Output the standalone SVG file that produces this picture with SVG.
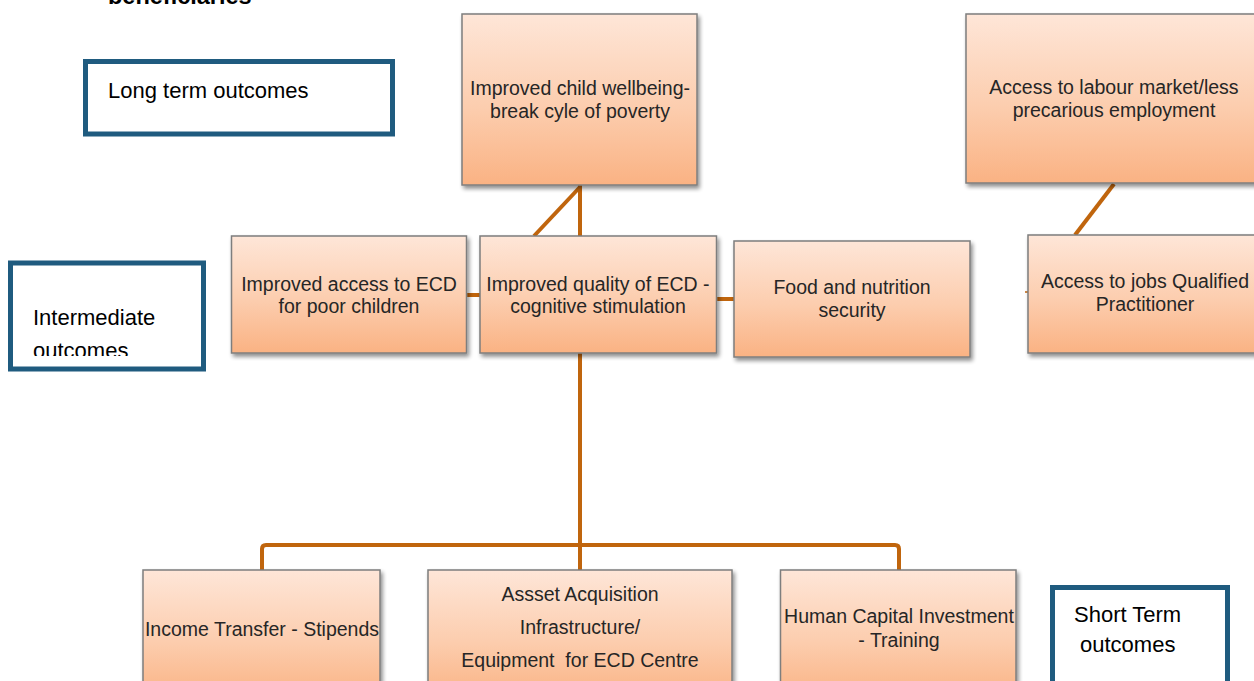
<svg xmlns="http://www.w3.org/2000/svg" width="1254" height="681" viewBox="0 0 1254 681">
  <defs>
    <linearGradient id="peach" x1="0" y1="0" x2="0" y2="1">
      <stop offset="0" stop-color="#FEE6D8"/>
      <stop offset="0.55" stop-color="#FCCDAE"/>
      <stop offset="1" stop-color="#FAB283"/>
    </linearGradient>
    <filter id="shadow" x="-10%" y="-10%" width="125%" height="130%">
      <feGaussianBlur in="SourceAlpha" stdDeviation="2"/>
      <feOffset dx="2" dy="3" result="b"/>
      <feComponentTransfer><feFuncA type="linear" slope="0.45"/></feComponentTransfer>
      <feMerge><feMergeNode/><feMergeNode in="SourceGraphic"/></feMerge>
    </filter>
    <clipPath id="midClip"><rect x="12" y="265" width="190" height="91"/></clipPath>
  </defs>
  <style>
    .node { fill: url(#peach); stroke: #7E7E7E; stroke-width: 1.5; filter: url(#shadow); }
    .nt { font-family: "Liberation Sans", Arial, sans-serif; font-size: 19.5px; fill: #262626; text-anchor: middle; }
    .lbl { fill: #FFFFFF; stroke: #1F5B7F; stroke-width: 5; }
    .lt { font-family: "Liberation Sans", Arial, sans-serif; font-size: 22px; fill: #000000; }
    .conn { fill: none; stroke: #C0650D; stroke-width: 4; stroke-linejoin: round; }
  </style>

  <rect x="0" y="0" width="1254" height="681" fill="#FFFFFF"/>

  <!-- heading carried over from the previous page -->
  <text x="108" y="4" font-family="Liberation Sans, Arial, sans-serif" font-size="23.5" font-weight="bold" fill="#000">beneficiaries</text>

  <!-- connectors -->
  <g id="connectors">
    <line class="conn" x1="580" y1="185" x2="580" y2="236"/>
    <line class="conn" x1="580" y1="187" x2="534" y2="236"/>
    <line class="conn" x1="467" y1="295" x2="480" y2="295"/>
    <line class="conn" x1="717" y1="299" x2="734" y2="299"/>
    <line class="conn" x1="1114" y1="184" x2="1075" y2="235"/>
    <line x1="1025" y1="292" x2="1028" y2="292" stroke="#C0650D" stroke-width="1.5"/>
    <line class="conn" x1="580" y1="353" x2="580" y2="570"/>
    <path class="conn" d="M262 570 V549 Q262 545 266 545 H895 Q899 545 899 549 V570"/>
  </g>

  <!-- long-term outcomes -->
  <g id="node-wellbeing">
    <rect class="node" x="462" y="14" width="235" height="171"/>
    <text class="nt" x="580" y="95">Improved child wellbeing-</text>
    <text class="nt" x="580" y="118">break cyle of poverty</text>
  </g>
  <g id="node-labour">
    <rect class="node" x="966" y="14" width="300" height="169"/>
    <text class="nt" x="1114" y="94">Access to labour market/less</text>
    <text class="nt" x="1114" y="117">precarious employment</text>
  </g>

  <!-- intermediate outcomes -->
  <g id="node-access">
    <rect class="node" x="231.5" y="236" width="235" height="117"/>
    <text class="nt" x="349" y="291">Improved access to ECD</text>
    <text class="nt" x="349" y="313">for poor children</text>
  </g>
  <g id="node-quality">
    <rect class="node" x="480" y="236" width="236.5" height="117"/>
    <text class="nt" x="598" y="291">Improved quality of ECD -</text>
    <text class="nt" x="598" y="313">cognitive stimulation</text>
  </g>
  <g id="node-food">
    <rect class="node" x="734" y="241" width="236" height="116"/>
    <text class="nt" x="852" y="294">Food and nutrition</text>
    <text class="nt" x="852" y="317">security</text>
  </g>
  <g id="node-jobs">
    <rect class="node" x="1028" y="235" width="240" height="118"/>
    <text class="nt" x="1145" y="288">Access to jobs Qualified</text>
    <text class="nt" x="1145" y="311">Practitioner</text>
  </g>

  <!-- short-term outcomes -->
  <g id="node-income">
    <rect class="node" x="143" y="570" width="237" height="130"/>
    <text class="nt" x="262" y="636">Income Transfer - Stipends</text>
  </g>
  <g id="node-asset">
    <rect class="node" x="428" y="570" width="304" height="130"/>
    <text class="nt" x="580" y="601">Assset Acquisition</text>
    <text class="nt" x="580" y="634">Infrastructure/</text>
    <text class="nt" x="580" y="667" xml:space="preserve">Equipment  for ECD Centre</text>
  </g>
  <g id="node-human">
    <rect class="node" x="780.5" y="570" width="235.5" height="130"/>
    <text class="nt" x="899" y="623">Human Capital Investment</text>
    <text class="nt" x="899" y="647">- Training</text>
  </g>

  <!-- level labels -->
  <g id="label-long">
    <rect class="lbl" x="85.5" y="61.5" width="307" height="72.5"/>
    <text class="lt" x="108" y="97.5">Long term outcomes</text>
  </g>
  <g id="label-intermediate">
    <rect class="lbl" x="10.5" y="263" width="193" height="106"/>
    <g clip-path="url(#midClip)">
      <text class="lt" x="33" y="325">Intermediate</text>
      <text class="lt" x="33" y="358">outcomes</text>
    </g>
  </g>
  <g id="label-short">
    <rect class="lbl" x="1052.5" y="587.5" width="175" height="110"/>
    <text class="lt" x="1074" y="622">Short Term</text>
    <text class="lt" x="1080" y="652">outcomes</text>
  </g>
</svg>
